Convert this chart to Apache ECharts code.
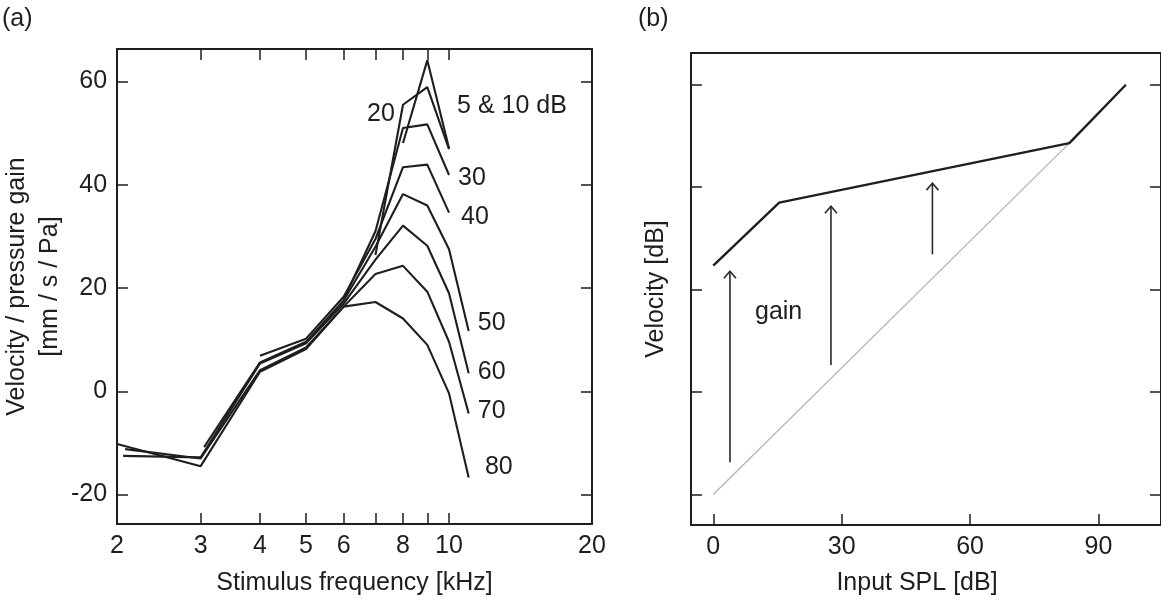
<!DOCTYPE html>
<html>
<head>
<meta charset="utf-8">
<script src="https://cdn.jsdelivr.net/npm/echarts@6/dist/echarts.min.js"></script>
<style>
html, body { margin: 0; padding: 0; background: #fff; }
#chart { width: 1161px; height: 601px; }
</style>
</head>
<body>
<div id="chart"></div>
<script>
// panel (a): velocity / pressure gain vs stimulus frequency, one curve per level
var freq5 = [8, 9, 10];
var gain5 = [48.1, 64.1, 47.1];
var freq20 = [7, 8, 9, 10];
var gain20 = [26.4, 55.5, 58.9, 46.9];
var freq30 = [6, 7, 8, 9, 10];
var gain30 = [17.8, 31.0, 51.0, 51.7, 41.9];
var freq40 = [4, 5, 6, 7, 8, 9, 10];
var gain40 = [6.9, 10.2, 18.3, 29.5, 43.4, 43.9, 34.6];
var freq50 = [3.05, 4, 5, 6, 7, 8, 9, 10, 11];
var gain50 = [-10.8, 5.6, 9.6, 17.6, 28.0, 38.2, 36.0, 27.5, 11.7];
var freq60 = [2.06, 3, 4, 5, 6, 7, 8, 9, 10, 11];
var gain60 = [-12.5, -12.8, 5.4, 9.3, 17.0, 25.5, 32.1, 28.2, 19.0, 3.5];
var freq70 = [2.08, 3, 4, 5, 6, 7, 8, 9, 10, 11];
var gain70 = [-11.2, -13.0, 4.1, 8.5, 16.4, 22.7, 24.3, 19.3, 9.6, -4.3];
var freq80 = [2, 3, 4, 5, 6, 7, 8, 9, 10, 11];
var gain80 = [-10.2, -14.5, 3.8, 8.2, 16.4, 17.3, 14.1, 9.0, -0.4, -16.7];

var curveFreqs = [freq5, freq20, freq30, freq40, freq50, freq60, freq70, freq80];
var curveGains = [gain5, gain20, gain30, gain40, gain50, gain60, gain70, gain80];

// level annotations next to the curves
var levelText = ['5 & 10 dB', '20', '30', '40', '50', '60', '70', '80'];
var levelFreq = [10.4, 7.69, 10.45, 10.6, 11.5, 11.5, 11.5, 11.9];
var levelGain = [55.2, 53.6, 41.3, 33.8, 13.2, 3.8, -3.9, -14.6];

var freqTicks = [3, 4, 5, 6, 7, 8, 9, 10];
var freqLabels = [2, 3, 4, 5, 6, 8, 10, 20];
var gainTicks = [-20, 0, 20, 40, 60];

// panel (b): schematic input/output function
var splLinear = [0, 83.2];
var velLinear = [0, 68.6];
var splCompressed = [0, 15.4, 83.2, 96.4];
var velCompressed = [44.7, 57.0, 68.6, 80.0];
var arrowSpl = [3.9, 27.5, 51.2];
var arrowFrom = [6.3, 25.3, 46.9];
var arrowTo = [43.6, 56.3, 60.8];
var splTicks = [0, 30, 60, 90];
var velTicks = [0, 20, 40, 60, 80];

var FONT = 'Liberation Sans';
var FS = 25;
var INK = '#1e1e1e';
var lg = function (v) { return Math.log10(v); };

var chart = echarts.init(document.getElementById('chart'));

var txt = { fontFamily: FONT, fontSize: FS, color: INK };
var border = { show: true, onZero: false, lineStyle: { color: INK, width: 2 } };
var tick = function (vals) {
    return { show: true, inside: true, length: 11, customValues: vals, lineStyle: { color: INK, width: 1.5 } };
};

var series = [];
for (var i = 0; i < curveFreqs.length; i++) {
    series.push({
        type: 'line',
        xAxisIndex: 0,
        yAxisIndex: 0,
        symbol: 'none',
        silent: true,
        lineStyle: { color: INK, width: 2.1 },
        data: curveFreqs[i].map(function (f, j) { return [lg(f), curveGains[i][j]]; })
    });
}

series.push({
    type: 'scatter',
    xAxisIndex: 0,
    yAxisIndex: 0,
    symbolSize: 0,
    silent: true,
    itemStyle: { opacity: 1 },
    data: levelText.map(function (t, j) {
        return {
            name: t,
            value: [lg(levelFreq[j]), levelGain[j]],
            label: { position: t === '20' ? 'left' : 'right' }
        };
    }),
    label: {
        show: true,
        distance: 0,
        formatter: '{b}',
        fontFamily: FONT,
        fontSize: FS,
        color: INK,
        opacity: 1
    }
});

series.push({
    type: 'line',
    xAxisIndex: 2,
    yAxisIndex: 2,
    symbol: 'none',
    silent: true,
    lineStyle: { color: '#b4b4b4', width: 1.3 },
    data: splLinear.map(function (x, j) { return [x, velLinear[j]]; })
});
series.push({
    type: 'line',
    xAxisIndex: 2,
    yAxisIndex: 2,
    symbol: 'none',
    silent: true,
    lineStyle: { color: INK, width: 2.4 },
    data: splCompressed.map(function (x, j) { return [x, velCompressed[j]]; })
});
series.push({
    type: 'custom',
    xAxisIndex: 2,
    yAxisIndex: 2,
    silent: true,
    encode: { x: 0, y: [1, 2] },
    data: arrowSpl.map(function (x, j) { return [x, arrowFrom[j], arrowTo[j]]; }),
    renderItem: function (params, api) {
        var p0 = api.coord([api.value(0), api.value(1)]);
        var p1 = api.coord([api.value(0), api.value(2)]);
        var st = { stroke: '#2a2a2a', lineWidth: 1.6, fill: null };
        return {
            type: 'group',
            children: [
                { type: 'line', shape: { x1: p0[0], y1: p0[1], x2: p1[0], y2: p1[1] }, style: st },
                { type: 'polyline', shape: { points: [[p1[0] - 6, p1[1] + 7], [p1[0], p1[1]], [p1[0] + 6, p1[1] + 7]] }, style: st }
            ]
        };
    }
});

var option = {
    animation: false,
    backgroundColor: '#fff',
    textStyle: { fontFamily: FONT },
    grid: [
        { left: 117, top: 49, width: 475, height: 475 },
        { left: 691, top: 53, width: 470, height: 476 }
    ],
    xAxis: [
        {
            gridIndex: 0, type: 'value', position: 'bottom',
            min: lg(2), max: lg(20),
            axisLine: border,
            axisTick: tick(freqTicks.map(lg)),
            axisLabel: Object.assign({
                margin: 10,
                customValues: freqLabels.map(lg),
                formatter: function (v) { return String(Math.round(Math.pow(10, v))); }
            }, txt),
            splitLine: { show: false },
            name: 'Stimulus frequency [kHz]', nameLocation: 'middle', nameGap: 47,
            nameTextStyle: txt
        },
        {
            gridIndex: 0, type: 'value', position: 'top',
            min: lg(2), max: lg(20),
            axisLine: border,
            axisTick: tick(freqTicks.map(lg)),
            axisLabel: { show: false },
            splitLine: { show: false }
        },
        {
            gridIndex: 1, type: 'value', position: 'bottom',
            min: -5.2, max: 104.6,
            axisLine: border,
            axisTick: tick(splTicks),
            axisLabel: Object.assign({ margin: 10, customValues: splTicks }, txt),
            splitLine: { show: false },
            name: 'Input SPL [dB]', nameLocation: 'middle', nameGap: 46,
            nameTextStyle: Object.assign({ padding: [0, 18, 0, 0] }, txt)
        },
        {
            gridIndex: 1, type: 'value', position: 'top',
            min: -5.2, max: 104.6,
            axisLine: border,
            axisTick: { show: false },
            axisLabel: { show: false },
            splitLine: { show: false }
        }
    ],
    yAxis: [
        {
            gridIndex: 0, type: 'value', position: 'left',
            min: -25.7, max: 66.3,
            axisLine: border,
            axisTick: tick(gainTicks),
            axisLabel: Object.assign({ margin: 10, customValues: gainTicks }, txt),
            splitLine: { show: false },
            name: 'Velocity / pressure gain\n[mm / s / Pa]', nameLocation: 'middle', nameGap: 41, nameRotate: 90,
            nameTextStyle: Object.assign({ lineHeight: 33 }, txt)
        },
        {
            gridIndex: 0, type: 'value', position: 'right',
            min: -25.7, max: 66.3,
            axisLine: border,
            axisTick: tick(gainTicks),
            axisLabel: { show: false },
            splitLine: { show: false }
        },
        {
            gridIndex: 1, type: 'value', position: 'left',
            min: -5.94, max: 86.2,
            axisLine: border,
            axisTick: tick(velTicks),
            axisLabel: { show: false },
            splitLine: { show: false },
            name: 'Velocity [dB]', nameLocation: 'middle', nameGap: 22, nameRotate: 90,
            nameTextStyle: txt
        },
        {
            gridIndex: 1, type: 'value', position: 'right',
            min: -5.94, max: 86.2,
            axisLine: border,
            axisTick: tick(velTicks),
            axisLabel: { show: false },
            splitLine: { show: false }
        }
    ],
    graphic: [
        { type: 'text', left: 2, top: 7, style: { text: '(a)', font: FS + 'px "Liberation Sans"', fill: INK } },
        { type: 'text', left: 638, top: 7, style: { text: '(b)', font: FS + 'px "Liberation Sans"', fill: INK } },
        { type: 'text', left: 755, top: 300, style: { text: 'gain', font: FS + 'px "Liberation Sans"', fill: INK } }
    ],
    series: series
};

chart.setOption(option);
</script>
</body>
</html>
